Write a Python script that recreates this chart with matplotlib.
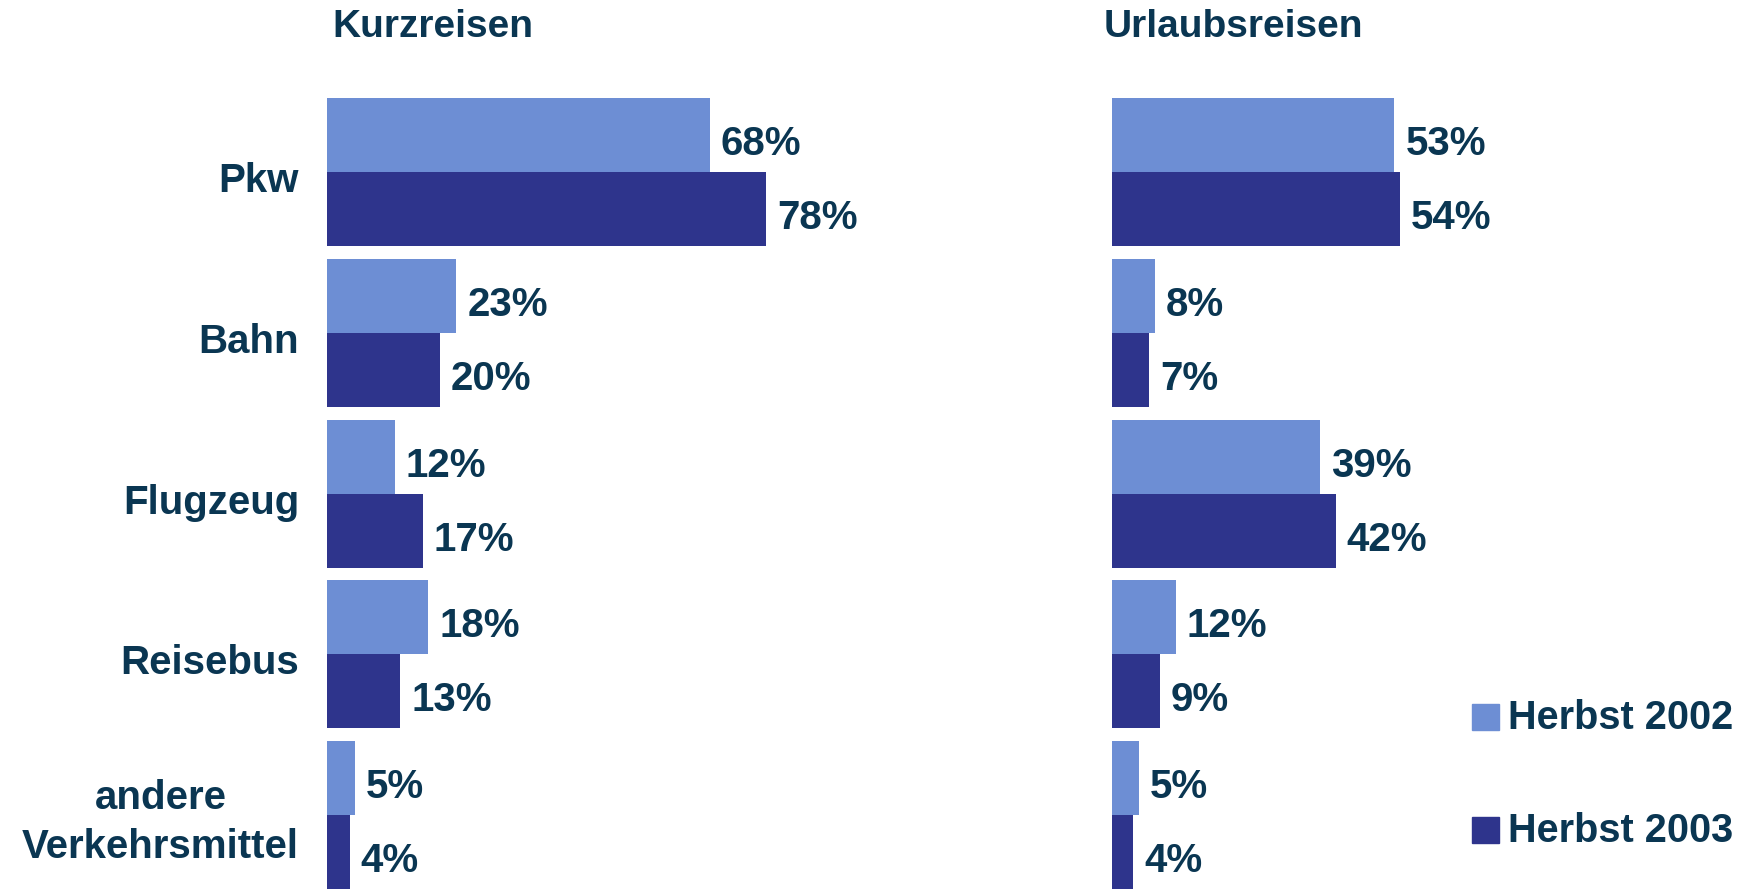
import matplotlib
matplotlib.use("Agg")
import matplotlib.pyplot as plt

# ---------------------------------------------------------------- data
categories = ["Pkw", "Bahn", "Flugzeug", "Reisebus", "andere\nVerkehrsmittel"]
kurz_2002 = [68, 23, 12, 18, 5]
kurz_2003 = [78, 20, 17, 13, 4]
urlaub_2002 = [53, 8, 39, 12, 5]
urlaub_2003 = [54, 7, 42, 9, 4]
series_names = ["Herbst 2002", "Herbst 2003"]

light = "#6d8ed4"
dark = "#2e348c"
txt = "#0a3652"
fnt = ["Liberation Sans", "DejaVu Sans"]

W, H = 1743, 890
PT = 0.72  # points per pixel at dpi 100
fig = plt.figure(figsize=(W / 100, H / 100), dpi=100)

top_px = 92
bot_px = 890
ylo = 4 + (bot_px - 815) / 160.6


def make_ax(left_px, width_px):
    return fig.add_axes([left_px / W, 1 - bot_px / H, width_px / W, (bot_px - top_px) / H])


def draw(ax, v1, v2):
    y = range(len(categories))
    h = 0.46
    ax.barh([i - h / 2 for i in y], v1, height=h, color=light)
    ax.barh([i + h / 2 for i in y], v2, height=h, color=dark)
    for i in y:
        for val, off in ((v1[i], -h / 2), (v2[i], h / 2)):
            ax.annotate(f"{val}%", (val, i + off), xytext=(11 * PT, -20 * PT),
                        textcoords="offset points", ha="left", va="baseline",
                        fontsize=29, fontweight="bold", color=txt, family=fnt)
    ax.set_xlim(0, 100)
    ax.set_ylim(ylo, -0.5)
    ax.axis("off")


ax1 = make_ax(327, 563)
draw(ax1, kurz_2002, kurz_2003)
for i, c in enumerate(categories):
    dy = 20 if "\n" not in c else 43  # baseline of last line below group centre
    ax1.annotate(c, (0, i), xytext=(-28 * PT, -dy * PT), textcoords="offset points",
                 ha="right", va="baseline", multialignment="center", fontsize=29,
                 fontweight="bold", color=txt, family=fnt, linespacing=1.36)

ax2 = make_ax(1112, 533)
draw(ax2, urlaub_2002, urlaub_2003)

fig.text(332 / W, 1 - 37 / H, "Kurzreisen", ha="left", va="baseline", fontsize=28,
         fontweight="bold", color=txt, family=fnt)
fig.text(1104 / W, 1 - 37 / H, "Urlaubsreisen", ha="left", va="baseline", fontsize=28,
         fontweight="bold", color=txt, family=fnt)

# legend drawn by hand
for name, col, base in zip(series_names, [light, dark], [729, 842]):
    fig.patches.append(plt.Rectangle((1472 / W, 1 - (base + 1) / H), 27 / W, 26 / H,
                                     transform=fig.transFigure, color=col))
    fig.text(1508 / W, 1 - base / H, name, ha="left", va="baseline", fontsize=28.5,
             fontweight="bold", color=txt, family=fnt)

fig.savefig("out.png", dpi=100)
